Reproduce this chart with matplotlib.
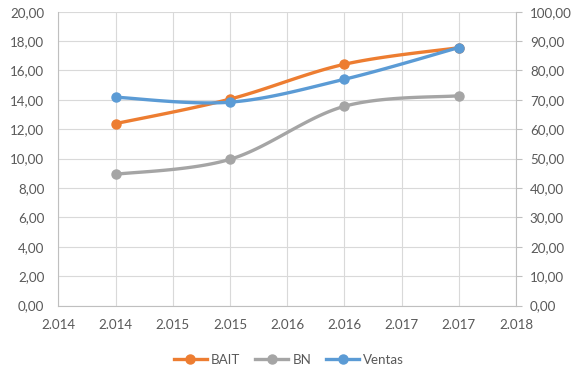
import numpy as np
import matplotlib
matplotlib.use("Agg")
import matplotlib.pyplot as plt
from matplotlib.lines import Line2D

# datos
years = [2014, 2015, 2016, 2017]
bait = [12.38, 14.05, 16.42, 17.55]
bn = [8.93, 9.95, 13.56, 14.28]
ventas = [70.9, 69.2, 77.0, 87.8]  # eje derecho

x_ticks = [2013.5, 2014, 2014.5, 2015, 2015.5, 2016, 2016.5, 2017, 2017.5]
y_left_ticks = list(range(0, 21, 2))
y_right_ticks = list(range(0, 101, 10))

c_bait = "#ED7D31"
c_bn = "#A5A5A5"
c_ventas = "#5B9BD5"
grid_c = "#D9D9D9"
axis_c = "#BFBFBF"
txt_c = "#595959"

plt.rcParams["font.family"] = ["Lato", "DejaVu Sans"]


def smooth(xs, ys, n=40):
    # curva suavizada tipo Excel (Bezier / Catmull-Rom)
    p = np.column_stack([xs, ys]).astype(float)
    pts = np.vstack([p[0], p, p[-1]])
    out = []
    for i in range(1, len(pts) - 2):
        p0, p1, p2, p3 = pts[i - 1], pts[i], pts[i + 1], pts[i + 2]
        c1 = p1 + (p2 - p0) / 6
        c2 = p2 - (p3 - p1) / 6
        t = np.linspace(0, 1, n)[:, None]
        seg = ((1 - t) ** 3) * p1 + 3 * ((1 - t) ** 2) * t * c1 + 3 * (1 - t) * t ** 2 * c2 + t ** 3 * p2
        out.append(seg)
    s = np.vstack(out)
    return s[:, 0], s[:, 1]


fig = plt.figure(figsize=(5.78, 3.80), dpi=100)
ax1 = fig.add_axes([58.3 / 578, 1 - 305.5 / 380, (516 - 58.3) / 578, (305.5 - 11.7) / 380])
ax2 = ax1.twinx()

ax1.set_xlim(2013.5, 2017.5)
ax1.set_ylim(0, 20)
ax2.set_ylim(0, 100)

ax1.set_xticks(x_ticks)
ax1.set_xticklabels(["2.%03d" % (int(np.floor(v + 0.5)) - 2000) for v in x_ticks])
ax1.set_yticks(y_left_ticks)
ax1.set_yticklabels([("%.2f" % v).replace(".", ",") for v in y_left_ticks])
ax2.set_yticks(y_right_ticks)
ax2.set_yticklabels([("%.2f" % v).replace(".", ",") for v in y_right_ticks])

ax1.grid(True, color=grid_c, linewidth=0.8)
ax1.set_axisbelow(True)
for a in (ax1, ax2):
    for s in a.spines.values():
        s.set_visible(False)
ax1.spines["left"].set_visible(True)
ax1.spines["left"].set_color(axis_c)
ax1.spines["bottom"].set_visible(True)
ax1.spines["bottom"].set_color(axis_c)
ax2.spines["right"].set_visible(True)
ax2.spines["right"].set_color(axis_c)

fs = 9.6
ax1.tick_params(axis="y", length=0, labelsize=fs, labelcolor=txt_c, pad=10)
ax1.tick_params(axis="x", length=0, labelsize=fs, labelcolor=txt_c, pad=10)
ax2.tick_params(axis="y", length=4, color=axis_c, labelsize=fs, labelcolor=txt_c, pad=6)

lw = 2.4
ms = 6.5
for ax, ys, c in [(ax1, bait, c_bait), (ax1, bn, c_bn), (ax2, ventas, c_ventas)]:
    sx, sy = smooth(years, ys)
    ax.plot(sx, sy, color=c, linewidth=lw, solid_capstyle="round", zorder=3)
    ax.plot(years, ys, "o", color=c, markersize=ms, zorder=4)

handles = [Line2D([], [], color=c, linewidth=lw, marker="o", markersize=ms)
           for c in (c_bait, c_bn, c_ventas)]
fig.legend(handles, ["BAIT", "BN", "Ventas"], loc="center", bbox_to_anchor=(0.5, 1 - 360 / 380),
           ncol=3, frameon=False, fontsize=fs, labelcolor=txt_c, handlelength=2.5,
           handletextpad=0.3, columnspacing=1.1)

fig.savefig("out.png", dpi=100)
